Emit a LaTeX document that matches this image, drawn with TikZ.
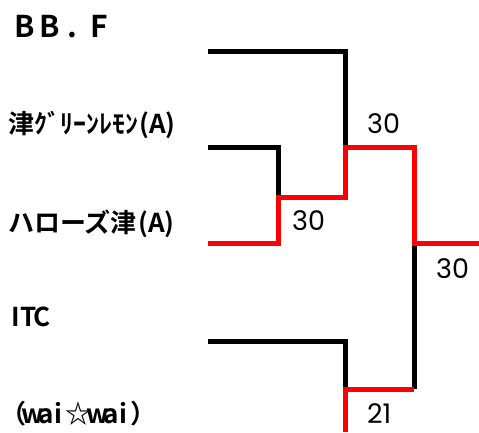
\documentclass[tikz,border=0pt]{standalone}
\usepackage{fontspec}
\newfontfamily\jp{Noto Sans CJK JP Bold}
\newfontfamily\num{Poppins}
\newcommand\hc[1]{\makebox[0.5em]{#1}}
\newcommand\fc[1]{\makebox[1em]{#1}}
\newcommand\tc[1]{\makebox[25pt]{#1}}
\definecolor{winred}{RGB}{255,0,0}
\tikzset{
  line/.style={line width=5pt, line join=miter, line cap=butt},
  lose/.style={line, black},
  win/.style={line, winred},
  team/.style={anchor=base west, inner sep=0pt, font=\jp\fontsize{26}{26}\selectfont},
  score/.style={anchor=base west, inner sep=0pt, font=\num\fontsize{27}{27}\selectfont, text=black},
}
\begin{document}
\begin{tikzpicture}[x=1pt, y=-1pt]
\useasboundingbox (0,0) rectangle (479,432);
% title and teams
\node[team, font=\jp\fontsize{30}{30}\selectfont] (title) at (12,37) {\tc{B}\tc{B}\makebox[25pt][l]{\,.}\tc{F}};
\node[team] (t2) at (8,133) {津ｸﾞﾘｰﾝﾚﾓﾝ\hc{(}\hc{A}\hc{)}};
\node[team] (t3) at (8,232) {ハローズ津\hc{(}\hc{A}\hc{)}};
\node[team] (t4) at (9,326) {\hc{I}\hc{T}\hc{C}};
\node[team] (t5) at (0,423) {\fc{（}\hc{w}\hc{a}\hc{i}\fc{☆}\hc{w}\hc{a}\hc{i}\fc{）}};
% bracket points
\coordinate (a1) at (208,51);
\coordinate (a2) at (208,147);
\coordinate (a3) at (208,243);
\coordinate (a4) at (208,341);
\coordinate (m1) at (278,147);
\coordinate (m2) at (278,197);
\coordinate (m3) at (278,243);
\coordinate (p1) at (345,51);
\coordinate (p2) at (345,147);
\coordinate (p3) at (345,197);
\coordinate (q1) at (345,341);
\coordinate (q2) at (345,389);
\coordinate (q3) at (345,432);
\coordinate (f1) at (414,147);
\coordinate (f2) at (414,243);
\coordinate (f3) at (414,389);
\coordinate (out) at (479,243);
% losers
\draw[lose] (a1) -- (p1) -- ([yshift=1pt]p2);
\draw[lose] (a2) -- (m1) -- (m2);
\draw[lose] (a4) -- (q1) -- (q2);
\draw[lose] (f3) -- (f2);
% winners
\draw[win] (a3) -- (m3) -- (m2) -- (p3) -- (p2) -- (f1) -- (f2) -- (out);
\draw[win] (q3) -- (q2) -- (f3);
% scores
\node[score] (s1) at (367,133) {30};
\node[score] (s2) at (292,230) {30};
\node[score] (s3) at (436,278) {30};
\node[score] (s4) at (367,423) {21};
\end{tikzpicture}
\end{document}
